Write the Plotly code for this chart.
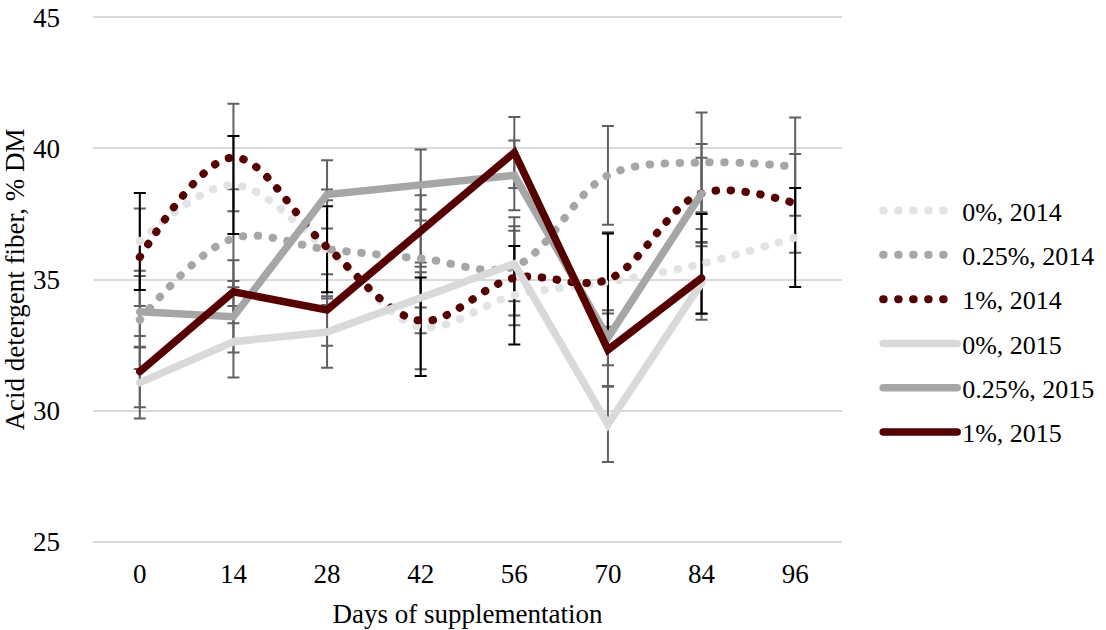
import plotly.graph_objects as go

days = ["0", "14", "28", "42", "56", "70", "84", "96"]

adf_0_2014 = [36.45, 38.6, 36.15, 33.2, 34.4, 34.9, 35.6, 36.6]
err_0_2014 = [1.85, 1.87, 1.64, 1.88, 1.88, 1.85, 1.9, 1.89]

adf_025_2014 = [33.46, 36.57, 36.15, 35.8, 35.5, 38.97, 39.46, 39.3]
err_025_2014 = [1.87, 1.87, 1.87, 1.87, 1.87, 1.88, 1.9, 1.87]

adf_1_2014 = [35.85, 39.65, 36.23, 33.43, 35.06, 35.0, 38.28, 37.9]
err_1_2014 = [1.86, 2.05, 2.2, 1.85, 1.8, 1.8, 1.88, 1.88]

adf_0_2015 = [31.07, 32.63, 33.0, 34.3, 35.6, 29.48, 34.87, None]
err_0_2015 = [1.37, 1.36, 1.36, 1.35, 1.43, 1.43, 1.4, None]

adf_025_2015 = [33.77, 33.58, 38.24, 38.6, 38.97, 32.78, 38.28, None]
err_025_2015 = [1.36, 1.36, 1.3, 1.35, 1.33, 1.05, 1.36, None]

adf_1_2015 = [31.49, 34.53, 33.84, 36.85, 39.84, 32.32, 35.06, None]
err_1_2015 = [1.36, 1.2, 1.36, 1.36, 1.35, 1.38, 1.37, None]

names = ["0%, 2014", "0.25%, 2014", "1%, 2014", "0%, 2015", "0.25%, 2015", "1%, 2015"]
values = [adf_0_2014, adf_025_2014, adf_1_2014, adf_0_2015, adf_025_2015, adf_1_2015]
errors = [err_0_2014, err_025_2014, err_1_2014, err_0_2015, err_025_2015, err_1_2015]
colors = ["#e3e3e3", "#a6a6a6", "#560000", "#d9d9d9", "#a6a6a6", "#560000"]
dotted = [True, True, True, False, False, False]
err_colors = ["#000000", "#606060", "#606060", "#606060", "#606060", "#606060"]

FONT = "Liberation Serif, Times New Roman, serif"

fig = go.Figure()

# error bars first (below all lines); black ones last so they sit on top
order = [1, 2, 3, 4, 5, 0]
for i in order:
    fig.add_trace(go.Scatter(
        x=days, y=values[i], mode="markers",
        marker=dict(size=1, opacity=0),
        error_y=dict(type="data", array=errors[i], visible=True,
                     color=err_colors[i], thickness=2, width=6),
        showlegend=False, hoverinfo="skip",
    ))

for i in range(6):
    if dotted[i]:
        line = dict(color=colors[i], width=8, dash="0.5px,14.5px",
                    shape="spline", smoothing=1.0)
    else:
        line = dict(color=colors[i], width=7.5)
    fig.add_trace(go.Scatter(
        x=days, y=values[i], mode="lines", name=names[i], line=line,
        legendgroup=names[i], connectgaps=False,
    ))

fig.update_layout(
    width=1106, height=630,
    margin=dict(l=93, r=264, t=16, b=87, autoexpand=False),
    paper_bgcolor="white", plot_bgcolor="white",
    font=dict(family=FONT, size=27, color="#000000"),
    showlegend=True,
    legend=dict(xref="container", x=0.794, xanchor="left", y=0.42, yanchor="middle",
                font=dict(family=FONT, size=26, color="#000000"),
                tracegroupgap=7.5, itemwidth=74, bgcolor="rgba(0,0,0,0)"),
    xaxis=dict(type="category", range=[-0.5, 7.5], showgrid=False,
               zeroline=False, showline=False, ticks="", automargin=False,
               tickfont=dict(size=27), ticklabelstandoff=12,
               title=dict(text="Days of supplementation", font=dict(size=27), standoff=16)),
    yaxis=dict(range=[24.96, 45.04], tickvals=[25, 30, 35, 40, 45],
               showgrid=True, gridcolor="#d9d9d9",
               gridwidth=2, zeroline=False, showline=False, ticks="", automargin=False,
               tickfont=dict(size=27), ticklabelstandoff=32,
               title=dict(text="Acid detergent fiber, % DM", font=dict(size=27), standoff=0)),
)

post = """
function rc(){document.querySelectorAll('path.js-line, .legendlines path').forEach(function(p){p.style.strokeLinecap='round';});}
rc(); var gd=document.getElementById('{plot_id}'); if(gd&&gd.on){gd.on('plotly_afterplot', rc);}
"""

fig.write_html("out.html", post_script=post)
